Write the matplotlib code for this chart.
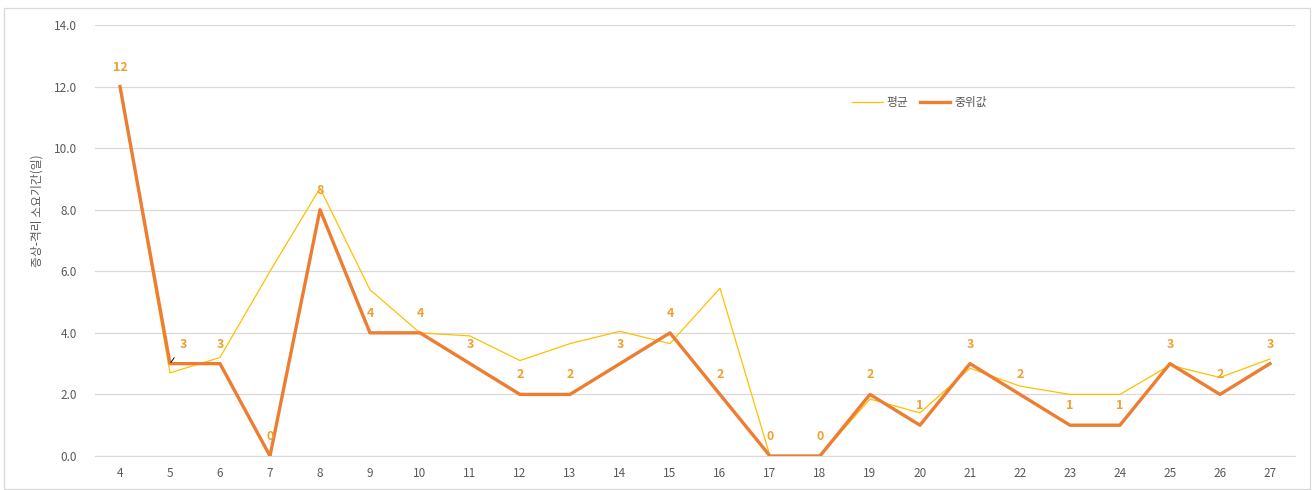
import matplotlib.pyplot as plt
import numpy as np

plt.rcParams['font.family'] = ['Noto Sans CJK KR', 'DejaVu Sans']

# categories (x axis) and series
days = [4, 5, 6, 7, 8, 9, 10, 11, 12, 13, 14, 15, 16, 17, 18, 19, 20, 21, 22, 23, 24, 25, 26, 27]
mean_vals = [12.0, 2.7, 3.2, 6.0, 8.7, 5.4, 4.0, 3.9, 3.1, 3.65, 4.05, 3.65, 5.45, 0.0, 0.0,
             1.85, 1.4, 2.85, 2.27, 2.0, 2.0, 2.95, 2.55, 3.15]
median_vals = [12, 3, 3, 0, 8, 4, 4, 3, 2, 2, 3, 4, 2, 0, 0, 2, 1, 3, 2, 1, 1, 3, 2, 3]
yticks = [0, 2, 4, 6, 8, 10, 12, 14]

x = np.arange(len(days))

fig = plt.figure(figsize=(13.14, 4.90), dpi=100)
ax = fig.add_axes([0.0723, 0.0694, 0.9132, 0.8796])

ax.plot(x, mean_vals, color='#FFC000', lw=0.9, label='평균', zorder=3)
ax.plot(x, median_vals, color='#ED7D31', lw=2.4, label='중위값', zorder=4)

# data labels for median
for i, v in enumerate(median_vals):
    if days[i] == 5:
        ax.annotate(str(v), (x[i], v), xytext=(10, 14), textcoords='offset points',
                    ha='center', va='center', color='#F0A030', fontsize=9, fontweight='bold',
                    arrowprops=dict(arrowstyle='-', color='black', lw=0.7, shrinkA=4, shrinkB=1),
                    zorder=6)
    else:
        ax.annotate(str(v), (x[i], v), xytext=(0, 14), textcoords='offset points',
                    ha='center', va='center', color='#F0A030', fontsize=9, fontweight='bold',
                    zorder=6)

ax.set_xlim(-0.5, len(days) - 0.5)
ax.set_ylim(0, 14)
ax.set_xticks(x)
ax.set_xticklabels([str(d) for d in days])
ax.set_yticks(yticks)
ax.set_yticklabels([f'{t:.1f}' for t in yticks])
ax.tick_params(axis='both', length=0, labelsize=8.5, colors='#595959', pad=8)
ax.tick_params(axis='y', pad=13)
ax.grid(axis='y', color='#D9D9D9', lw=0.9)
ax.set_axisbelow(True)
for s in ['top', 'right', 'left']:
    ax.spines[s].set_visible(False)
ax.spines['bottom'].set_color('#D9D9D9')

ax.set_ylabel('증상-격리 소요기간(일)', fontsize=8.5, color='#595959')
ax.yaxis.set_label_coords(-0.043, 0.57)

leg = ax.legend(loc='upper left', bbox_to_anchor=(0.622, 0.86), ncol=2, frameon=False,
                fontsize=8.5, handlelength=2.6, columnspacing=1.0, handletextpad=0.3)
for t in leg.get_texts():
    t.set_color('#595959')

# chart border
fig.patches.append(plt.Rectangle((0.003, 0.003), 0.994, 0.98, transform=fig.transFigure,
                                 fill=False, edgecolor='#D9D9D9', lw=0.9))

fig.savefig('out.png', dpi=100)
